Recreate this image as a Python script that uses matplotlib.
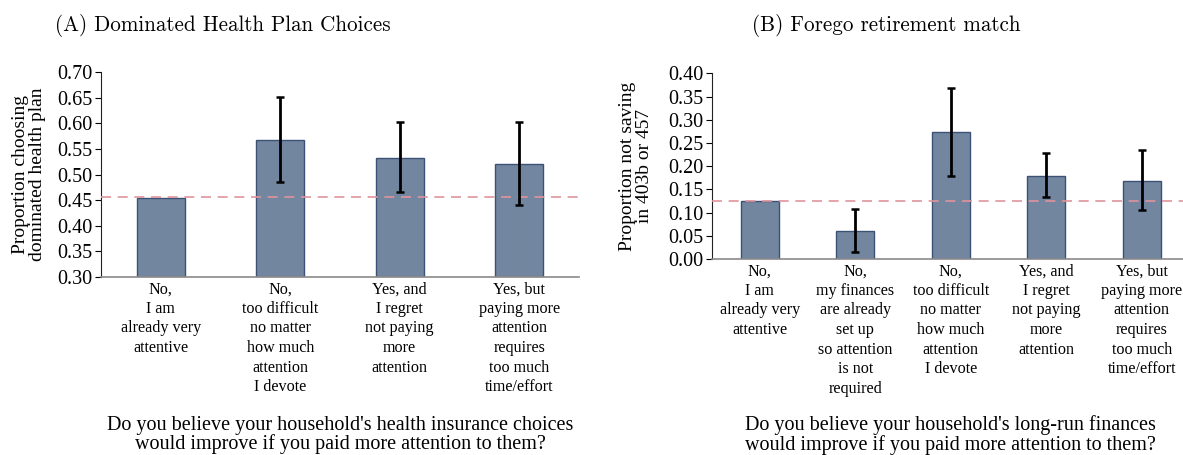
import numpy as np
import matplotlib
matplotlib.use("Agg")
import matplotlib.pyplot as plt
from matplotlib.transforms import blended_transform_factory

# ---- data -------------------------------------------------------------
health_labels = [
    "No,\nI am\nalready very\nattentive",
    "No,\ntoo difficult\nno matter\nhow much\nattention\nI devote",
    "Yes, and\nI regret\nnot paying\nmore\nattention",
    "Yes, but\npaying more\nattention\nrequires\ntoo much\ntime/effort",
]
health_values = [0.455, 0.568, 0.533, 0.520]
health_ci_low = [np.nan, 0.486, 0.466, 0.441]
health_ci_high = [np.nan, 0.651, 0.602, 0.602]
health_baseline = 0.456
health_yticks = [0.30, 0.35, 0.40, 0.45, 0.50, 0.55, 0.60, 0.65, 0.70]

retire_labels = [
    "No,\nI am\nalready very\nattentive",
    "No,\nmy finances\nare already\nset up\nso attention\nis not\nrequired",
    "No,\ntoo difficult\nno matter\nhow much\nattention\nI devote",
    "Yes, and\nI regret\nnot paying\nmore\nattention",
    "Yes, but\npaying more\nattention\nrequires\ntoo much\ntime/effort",
]
retire_values = [0.124, 0.060, 0.273, 0.179, 0.168]
retire_ci_low = [np.nan, 0.014, 0.178, 0.133, 0.105]
retire_ci_high = [np.nan, 0.108, 0.368, 0.228, 0.234]
retire_baseline = 0.125
retire_yticks = [0.00, 0.05, 0.10, 0.15, 0.20, 0.25, 0.30, 0.35, 0.40]

# ---- style ------------------------------------------------------------
SERIF = "Liberation Serif"
BAR_FACE = "#72879f"
BAR_EDGE = "#3c5175"
DASH = "#e0939c"

plt.rcParams["font.family"] = SERIF

fig = plt.figure(figsize=(11.83, 4.55), dpi=100)
axA = fig.add_axes([0.0854, 0.3912, 0.4040, 0.4499])
axB = fig.add_axes([0.6019, 0.4308, 0.4036, 0.4081])


def panel(ax, labels, values, lo, hi, base, yticks, title, title_x,
          ylabel, ylabel_x, xlabel):
    x = np.arange(len(values))
    vals = np.asarray(values)
    err = np.vstack([vals - np.asarray(lo), np.asarray(hi) - vals])
    ax.bar(x, vals, width=0.4, color=BAR_FACE, edgecolor=BAR_EDGE,
           linewidth=1.0, zorder=2)
    ax.errorbar(x, vals, yerr=err, fmt="none", ecolor="black",
                elinewidth=2.0, capsize=3, capthick=1.8, zorder=4)
    ax.axhline(base, color=DASH, linestyle=(0, (6, 4)), linewidth=1.2,
               zorder=3, clip_on=False)
    ax.set_xlim(-0.5, len(values) - 0.5)
    ax.set_ylim(yticks[0], yticks[-1])
    ax.set_yticks(yticks)
    ax.set_yticklabels([f"{t:.2f}" for t in yticks])
    ax.set_xticks(x)
    ax.set_xticklabels(labels, linespacing=1.3)
    ax.tick_params(axis="x", length=0, pad=3, labelsize=11.6)
    ax.tick_params(axis="y", length=4, width=0.8, direction="out",
                   pad=2, labelsize=14.5)
    for s in ("top", "right"):
        ax.spines[s].set_visible(False)
    ax.spines["left"].set_color("#222222")
    ax.spines["left"].set_linewidth(0.8)
    ax.spines["bottom"].set_color("#8a8a8a")
    ax.spines["bottom"].set_linewidth(1.2)

    fig.text(title_x, 0.945, title, family="cmr10", fontsize=15.2,
             ha="center", va="center")
    tr_y = blended_transform_factory(fig.transFigure, ax.transAxes)
    ax.text(ylabel_x, 0.5, ylabel, transform=tr_y, rotation=90,
            ha="center", va="center", fontsize=14, linespacing=1.0)
    tr_x = blended_transform_factory(ax.transAxes, fig.transFigure)
    ax.text(0.5, 0.044, xlabel, transform=tr_x, ha="center",
            va="center", fontsize=14.5, linespacing=1.0)


panel(axA, health_labels, health_values, health_ci_low, health_ci_high,
      health_baseline, health_yticks,
      "(A) Dominated Health Plan Choices", 0.188,
      "Proportion choosing\ndominated health plan", 0.0245,
      "Do you believe your household's health insurance choices\n"
      "would improve if you paid more attention to them?")

panel(axB, retire_labels, retire_values, retire_ci_low, retire_ci_high,
      retire_baseline, retire_yticks,
      "(B) Forego retirement match", 0.749,
      "Proportion not saving\nin 403b or 457", 0.5376,
      "Do you believe your household's long-run finances\n"
      "would improve if you paid more attention to them?")

fig.savefig("out.png", dpi=100)
